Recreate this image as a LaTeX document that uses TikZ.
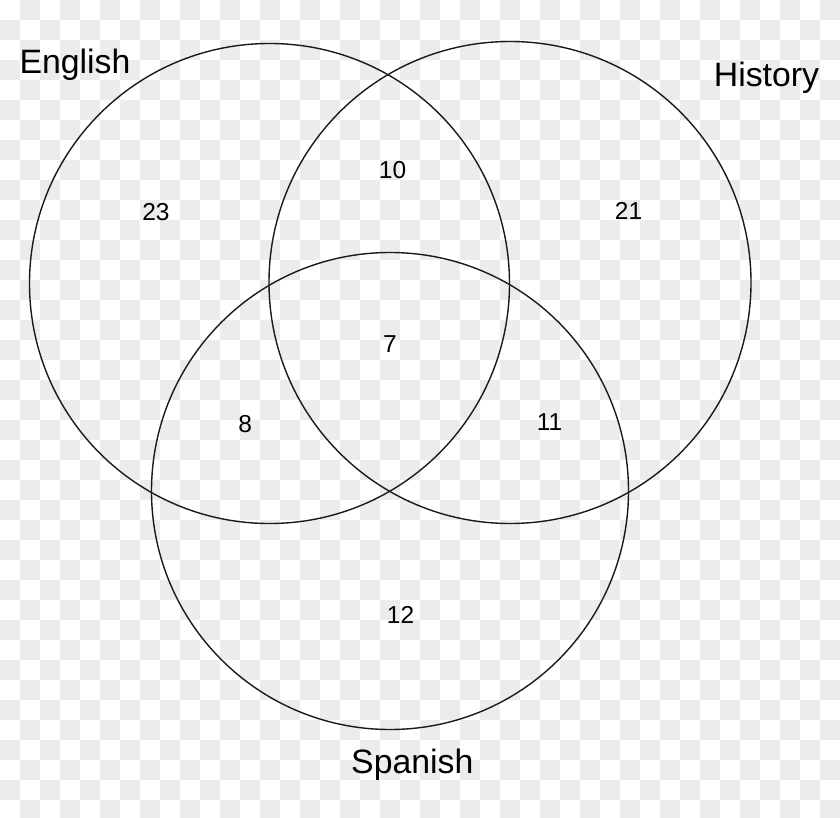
\documentclass[tikz,border=0pt]{standalone}
\usepackage{fontspec}
\setmainfont{Liberation Sans}
\definecolor{checkgray}{HTML}{ECECEC}
\definecolor{linecol}{HTML}{1A1A1A}
\tikzset{
  setcircle/.style={circle, draw=linecol, line width=1.4pt, inner sep=0pt, fill=none},
  setlabel/.style={anchor=base, inner sep=0pt, font=\fontsize{33.8}{40}\selectfont},
  count/.style={anchor=base, inner sep=0pt, font=\fontsize{24.5}{30}\selectfont}
}
\begin{document}
\begin{tikzpicture}[x=1pt,y=-1pt]
\useasboundingbox (0,0) rectangle (840,818);
\clip (0,0) rectangle (840,818);
% transparency checkerboard background
\fill[white] (0,0) rectangle (840,818);
\foreach \j in {0,2,...,40} {
  \foreach \i in {1,3,...,41} {
    \fill[checkgray] (\i*20,\j*20) rectangle ++(20,20);
  }
}
\foreach \j in {1,3,...,39} {
  \foreach \i in {0,2,...,40} {
    \fill[checkgray] (\i*20,\j*20) rectangle ++(20,20);
  }
}
% sets
\node[setcircle, minimum size=480pt] (eng) at (269.5,283.5) {};
\node[setcircle, minimum size=482pt] (his) at (510,282.5) {};
\node[setcircle, minimum size=477pt] (spa) at (390,491) {};
% labels
\node[setlabel] (lEng) at (75,74) {English};
\node[setlabel] (lHis) at (766.5,86.7) {History};
\node[setlabel] (lSpa) at (412.3,773) {Spanish};
% counts
\node[count] (n23) at (156,220.7) {23};
\node[count] (n10) at (392.5,178.3) {10};
\node[count] (n21) at (628.5,220) {21};
\node[count] (n7) at (390,352.7) {7};
\node[count] (n8) at (245.3,432.3) {8};
\node[count] (n11) at (549.5,430) {11};
\node[count] (n12) at (400.5,623.3) {12};
\end{tikzpicture}
\end{document}
